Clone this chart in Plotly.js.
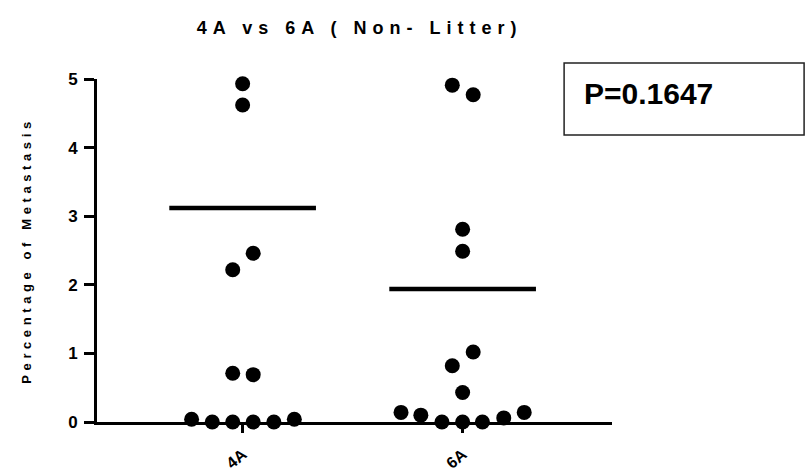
<!DOCTYPE html>
<html>
<head>
<meta charset="utf-8">
<script src="https://cdn.plot.ly/plotly-3.0.1.min.js"></script>
<style>
html, body { margin: 0; padding: 0; background: #fff; }
#chart { width: 806px; height: 475px; }
.gtitle { letter-spacing: 6px; }
.ytitle { letter-spacing: 4.6px; }
</style>
</head>
<body>
<div id="chart"></div>
<script>
// ---- data ----
const categories = ["4A", "6A"];
const values4A = [4.93, 4.62, 2.46, 2.22, 0.71, 0.69, 0.04, 0, 0, 0, 0, 0.04];
const values6A = [4.91, 4.77, 2.81, 2.49, 1.02, 0.82, 0.43, 0.14, 0.10, 0, 0, 0, 0.06, 0.14];
const centerLines = [3.12, 1.94];
const yTicks = [0, 1, 2, 3, 4, 5];
const pValueText = "P=0.1647";

// ---- layout of dots within each column (scatter spread, category units) ----
const spread4A = [0, 0, 0.048, -0.045, -0.045, 0.048, -0.232, -0.138, -0.045, 0.048, 0.142, 0.235];
const spread6A = [-0.047, 0.048, 0, 0, 0.048, -0.047, 0, -0.28, -0.19, -0.094, 0, 0.09, 0.187, 0.28];
const lineHalfWidth = 1 / 3;

const groups = [values4A, values6A];
const spreads = [spread4A, spread6A];
const FONT = "Liberation Sans, Arial, Helvetica, sans-serif";

const traces = [];
groups.forEach((vals, gi) => {
  traces.push({
    type: "scatter",
    mode: "markers",
    x: vals.map((v, i) => gi + spreads[gi][i]),
    y: vals,
    marker: { color: "#000", size: 15, line: { width: 0 } },
    cliponaxis: false,
    hoverinfo: "y",
    showlegend: false
  });
  traces.push({
    type: "scatter",
    mode: "lines",
    x: [gi - lineHalfWidth, gi + lineHalfWidth],
    y: [centerLines[gi], centerLines[gi]],
    line: { color: "#000", width: 4.5 },
    cliponaxis: false,
    hoverinfo: "skip",
    showlegend: false
  });
});

const layout = {
  width: 806,
  height: 475,
  margin: { l: 97, r: 194, t: 79, b: 53, pad: 0 },
  paper_bgcolor: "#fff",
  plot_bgcolor: "#fff",
  font: { family: FONT, color: "#000" },
  title: {
    text: "4A vs 6A ( Non- Litter)",
    font: { family: FONT, size: 18, weight: "bold", color: "#000" },
    xref: "paper", x: 0.51, xanchor: "center",
    yref: "container", y: 0.941, yanchor: "middle"
  },
  xaxis: {
    range: [-0.662, 1.679],
    tickmode: "array",
    tickvals: categories.map((c, i) => i),
    ticktext: categories,
    tickangle: -40,
    ticks: "outside", ticklen: 8, tickwidth: 3, tickcolor: "#000",
    ticklabelstandoff: 6,
    tickfont: { family: FONT, size: 16, weight: "bold", color: "#000" },
    showline: true, linecolor: "#000", linewidth: 3,
    showgrid: false, zeroline: false, fixedrange: true
  },
  yaxis: {
    range: [0, 5],
    tickmode: "array",
    tickvals: yTicks,
    ticktext: yTicks.map(String),
    ticks: "outside", ticklen: 10, tickwidth: 3, tickcolor: "#000",
    ticklabelstandoff: 3,
    tickfont: { family: FONT, size: 17, weight: "bold", color: "#000" },
    showline: true, linecolor: "#000", linewidth: 3,
    showgrid: false, zeroline: false, fixedrange: true,
    title: {
      text: "Percentage of Metastasis",
      font: { family: FONT, size: 13, weight: "bold", color: "#000" },
      standoff: 34
    }
  },
  shapes: [{
    type: "rect", xref: "paper", yref: "paper",
    x0: 0.907, x1: 1.373, y0: 0.837, y1: 1.047,
    line: { color: "#222", width: 1.5 }, fillcolor: "rgba(0,0,0,0)"
  }],
  annotations: [{
    text: pValueText,
    xref: "paper", yref: "paper",
    x: 0.941, y: 0.959, xanchor: "left", yanchor: "middle",
    showarrow: false,
    font: { family: FONT, size: 30, weight: "bold", color: "#000" }
  }]
};

Plotly.newPlot("chart", traces, layout, { displayModeBar: false, staticPlot: true });
</script>
</body>
</html>
